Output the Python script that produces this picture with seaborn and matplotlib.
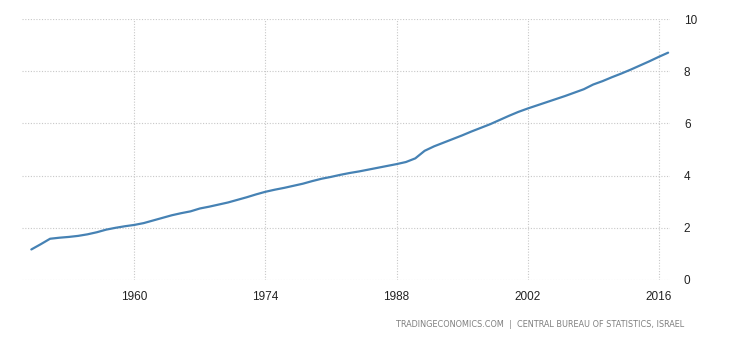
import matplotlib
matplotlib.use("Agg")
import matplotlib.pyplot as plt
import pandas as pd
import seaborn as sns

years = list(range(1949, 2018))
population = [
    1.17, 1.37, 1.58, 1.62, 1.65, 1.69, 1.75, 1.83, 1.93, 2.00,
    2.06, 2.11, 2.18, 2.28, 2.38, 2.48, 2.56, 2.63, 2.74, 2.81,
    2.89, 2.97, 3.07, 3.17, 3.28, 3.38, 3.46, 3.53, 3.61, 3.69,
    3.79, 3.88, 3.95, 4.03, 4.10, 4.16, 4.23, 4.30, 4.37, 4.44,
    4.52, 4.66, 4.95, 5.12, 5.26, 5.40, 5.54, 5.69, 5.83, 5.97,
    6.13, 6.29, 6.44, 6.57, 6.69, 6.81, 6.93, 7.05, 7.18, 7.31,
    7.49, 7.62, 7.77, 7.91, 8.06, 8.22, 8.38, 8.55, 8.71,
]
x_ticks = [1960, 1974, 1988, 2002, 2016]
y_ticks = [0, 2, 4, 6, 8, 10]
source = "TRADINGECONOMICS.COM  |  CENTRAL BUREAU OF STATISTICS, ISRAEL"

sns.set_style("white")
plt.rcParams["font.family"] = ["Liberation Sans", "DejaVu Sans"]

df = pd.DataFrame({"year": years, "population": population})

fig = plt.figure(figsize=(7.3, 3.4), dpi=100)
ax = fig.add_axes([0.0301, 0.1765, 0.8877, 0.7676])
sns.lineplot(data=df, x="year", y="population", color="#4682b4", linewidth=1.6, ax=ax)

ax.set_xlim(1948.0, 2017.2)
ax.set_ylim(0, 10)
ax.set_xticks(x_ticks)
ax.set_yticks(y_ticks)
ax.set_xlabel("")
ax.set_ylabel("")
for side in ["top", "right", "bottom", "left"]:
    ax.spines[side].set_visible(False)
ax.grid(True, color="#c8c8c8", linestyle=(0, (1, 1.5)), linewidth=0.8)
ax.set_axisbelow(True)
ax.yaxis.tick_right()
ax.tick_params(axis="y", length=0, pad=10, labelsize=8.5, labelcolor="#222222")
ax.tick_params(axis="x", length=5, width=0.8, color="#c8c8c8", pad=3, labelsize=8.5,
               labelcolor="#222222")

fig.text(0.938, 0.045, source, ha="right", va="center", fontsize=5.9, color="#7f7f7f",
         family=["DejaVu Sans"])

fig.savefig("out.png", dpi=100)
